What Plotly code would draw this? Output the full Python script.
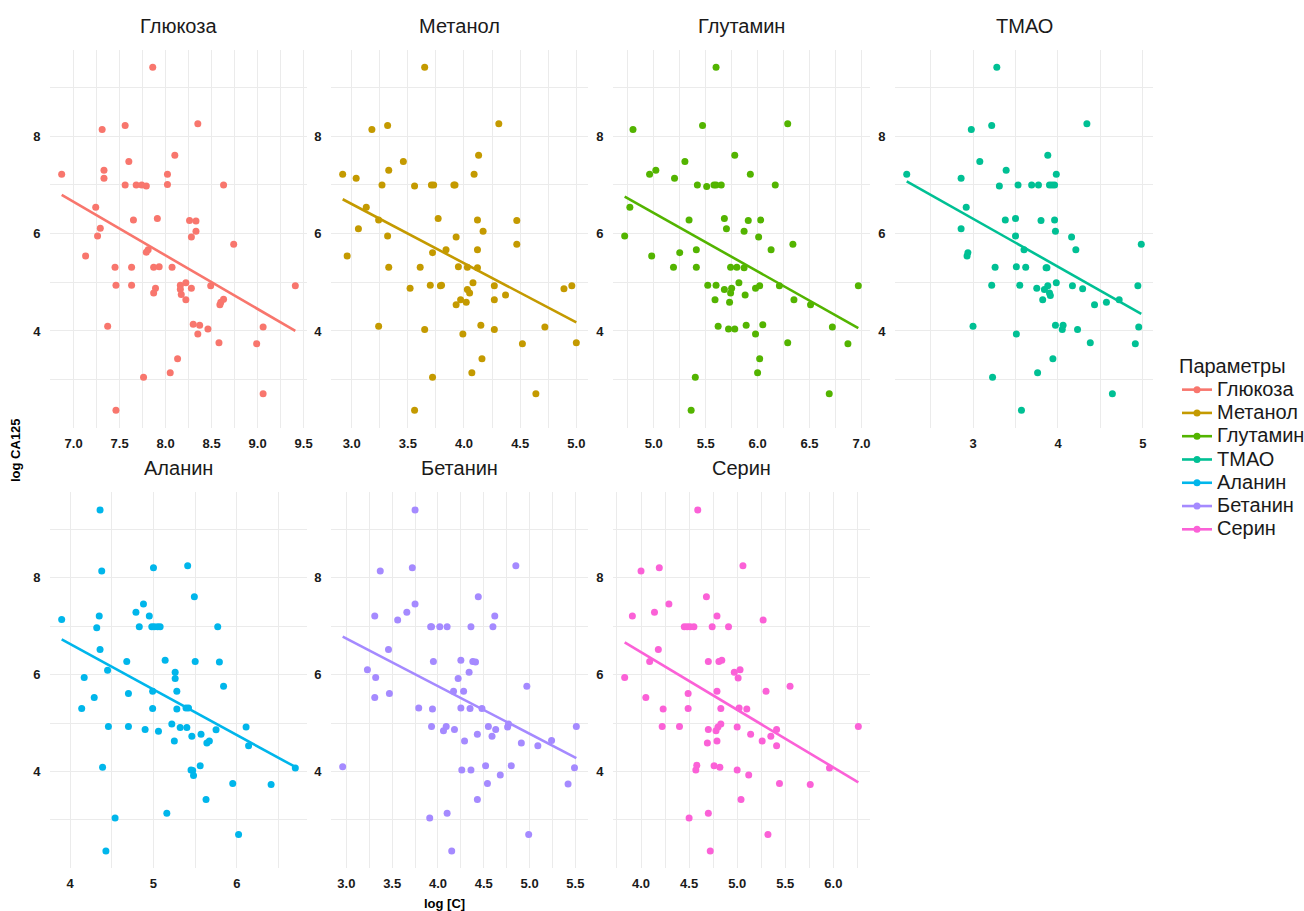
import numpy as np
import plotly.graph_objects as go

names = ["Глюкоза", "Метанол", "Глутамин", "ТМАО", "Аланин", "Бетанин", "Серин"]
colors = ["#F8766D", "#C49A00", "#53B400", "#00C094", "#00B6EB", "#A58AFF", "#FB61D7"]

x_glucose = [7.86, 7.31, 7.56, 8.35, 8.10, 7.60, 7.33, 7.33, 6.87, 8.02, 7.56, 7.68, 7.74, 7.79, 8.02, 8.63,
             7.24, 7.65, 7.91, 8.26, 8.33, 8.33, 7.29, 7.26, 8.28, 8.74, 7.13, 7.79, 7.81, 7.45, 7.63, 7.87,
             7.93, 8.07, 7.46, 7.63, 7.89, 7.87, 8.22, 8.16, 8.16, 8.17, 8.22, 8.28, 8.49, 8.59, 8.60, 8.63,
             8.30, 8.37, 8.35, 8.46, 7.37, 9.06, 8.58, 8.99, 8.13, 8.05, 7.76, 9.06, 7.46, 9.41]
y_glucose = [9.42, 8.14, 8.22, 8.26, 7.61, 7.48, 7.30, 7.14, 7.22, 7.22, 7.00, 7.00, 7.00, 6.98, 7.01, 7.00,
             6.54, 6.28, 6.31, 6.27, 6.26, 6.05, 6.11, 5.95, 5.93, 5.78, 5.54, 5.62, 5.67, 5.31, 5.31, 5.31,
             5.32, 5.31, 4.94, 4.94, 4.88, 4.78, 4.99, 4.94, 4.86, 4.75, 4.64, 4.88, 4.93, 4.54, 4.59, 4.65,
             4.14, 4.12, 3.94, 4.04, 4.10, 4.08, 3.76, 3.74, 3.43, 3.14, 3.05, 2.71, 2.37, 4.93]

x_methanol = [3.65, 3.18, 3.32, 4.31, 4.13, 3.46, 3.33, 3.04, 2.92, 4.09, 3.27, 3.56, 3.71, 3.73, 3.91, 3.92,
              3.13, 3.24, 3.77, 4.12, 4.47, 4.17, 3.06, 3.32, 3.93, 4.47, 2.96, 3.72, 3.84, 4.12, 3.33, 3.61,
              3.95, 4.03, 4.12, 3.52, 3.70, 3.79, 3.80, 4.08, 4.27, 4.03, 4.05, 3.97, 4.02, 3.93, 4.27, 4.37,
              4.89, 4.96, 3.24, 3.65, 4.15, 3.99, 4.27, 4.72, 4.52, 5.00, 4.16, 4.07, 3.72, 4.64, 3.56]
y_methanol = [9.42, 8.14, 8.22, 8.26, 7.61, 7.48, 7.30, 7.14, 7.22, 7.22, 7.00, 6.98, 7.00, 7.00, 7.00, 7.00,
              6.54, 6.28, 6.31, 6.28, 6.27, 6.05, 6.10, 5.95, 5.93, 5.78, 5.54, 5.61, 5.67, 5.67, 5.31, 5.31,
              5.32, 5.31, 5.30, 4.88, 4.94, 4.93, 4.94, 4.99, 4.93, 4.85, 4.78, 4.64, 4.59, 4.54, 4.64, 4.74,
              4.87, 4.93, 4.10, 4.03, 4.12, 3.94, 4.03, 4.08, 3.74, 3.76, 3.43, 3.14, 3.05, 2.71, 2.37]

x_glutamine = [5.60, 4.80, 5.47, 6.29, 5.78, 5.30, 5.02, 5.20, 4.96, 5.93, 5.42, 5.51, 5.58, 5.60, 5.65, 6.17,
               4.77, 5.34, 5.68, 5.91, 6.03, 5.70, 5.87, 4.72, 6.01, 6.34, 4.98, 5.25, 5.41, 6.13, 5.19, 5.41,
               5.74, 5.80, 5.87, 5.52, 5.60, 5.68, 5.75, 5.74, 5.82, 5.98, 6.02, 6.21, 5.88, 5.59, 5.73, 6.35,
               6.51, 6.97, 5.62, 5.72, 5.78, 5.89, 6.05, 5.98, 6.72, 6.29, 6.87, 6.02, 6.00, 5.40, 6.69, 5.36]
y_glutamine = [9.42, 8.14, 8.22, 8.26, 7.61, 7.48, 7.30, 7.14, 7.22, 7.22, 7.00, 6.97, 7.00, 7.00, 7.00, 7.00,
               6.54, 6.28, 6.31, 6.27, 6.28, 6.10, 6.05, 5.95, 5.93, 5.78, 5.54, 5.61, 5.67, 5.67, 5.31, 5.31,
               5.31, 5.31, 5.30, 4.94, 4.94, 4.85, 4.88, 4.78, 4.99, 4.88, 4.93, 4.93, 4.74, 4.64, 4.59, 4.64,
               4.54, 4.93, 4.10, 4.04, 4.04, 4.12, 4.13, 3.94, 4.08, 3.76, 3.74, 3.43, 3.14, 3.05, 2.71, 2.37]

x_tmao = [3.28, 2.98, 3.22, 4.34, 3.88, 3.08, 3.39, 2.86, 2.22, 3.98, 3.31, 3.53, 3.69, 3.77, 3.90, 3.93,
          3.96, 2.92, 3.38, 3.50, 3.80, 3.96, 2.86, 3.97, 3.50, 4.16, 4.98, 2.93, 2.94, 3.60, 4.21, 3.26,
          3.51, 3.62, 3.86, 3.87, 3.22, 3.55, 3.75, 3.84, 3.88, 3.90, 3.91, 3.98, 4.17, 4.29, 3.82, 4.43,
          4.57, 4.72, 4.94, 3.00, 3.97, 4.06, 4.05, 4.23, 3.51, 4.95, 4.38, 4.91, 3.94, 3.76, 3.23, 4.64, 3.57]
y_tmao = [9.42, 8.14, 8.22, 8.26, 7.61, 7.48, 7.30, 7.14, 7.22, 7.22, 6.98, 7.00, 7.00, 7.00, 7.00, 7.00,
          7.00, 6.54, 6.28, 6.31, 6.27, 6.28, 6.10, 6.05, 5.95, 5.93, 5.78, 5.54, 5.61, 5.67, 5.67, 5.31,
          5.32, 5.31, 5.30, 5.30, 4.94, 4.94, 4.88, 4.85, 4.93, 4.78, 4.73, 4.99, 4.93, 4.87, 4.64, 4.54,
          4.59, 4.64, 4.93, 4.10, 4.12, 4.12, 4.03, 4.03, 3.94, 4.08, 3.76, 3.74, 3.43, 3.14, 3.05, 2.71, 2.37]

x_alanine = [4.36, 4.38, 5.00, 5.41, 5.49, 4.88, 4.79, 4.35, 3.90, 4.95, 4.32, 4.83, 4.98, 5.01, 5.05, 5.08,
             5.77, 4.36, 4.68, 5.14, 5.50, 5.79, 5.26, 5.26, 4.45, 4.17, 5.84, 4.29, 4.70, 4.99, 5.28, 4.14,
             4.99, 5.28, 5.39, 5.42, 4.46, 4.70, 4.90, 5.06, 5.22, 5.25, 5.32, 5.40, 5.46, 5.57, 5.64, 5.67,
             5.75, 6.11, 6.14, 6.70, 4.39, 5.45, 5.47, 5.48, 5.56, 5.95, 6.41, 5.63, 5.16, 4.54, 6.02, 4.43]
y_alanine = [9.40, 8.14, 8.21, 8.25, 7.61, 7.46, 7.29, 7.21, 7.14, 7.21, 6.97, 6.99, 6.99, 6.99, 6.99, 6.99,
             6.99, 6.52, 6.27, 6.30, 6.27, 6.26, 6.05, 5.92, 6.09, 5.94, 5.76, 5.53, 5.61, 5.66, 5.66, 5.30,
             5.30, 5.29, 5.31, 5.31, 4.93, 4.93, 4.87, 4.83, 4.98, 4.63, 4.91, 4.91, 4.73, 4.77, 4.59, 4.63,
             4.86, 4.92, 4.53, 4.07, 4.09, 4.03, 4.02, 3.92, 4.12, 3.75, 3.73, 3.42, 3.14, 3.04, 2.70, 2.36]

x_betanin = [3.75, 3.37, 3.72, 4.85, 4.44, 3.75, 3.66, 3.31, 3.56, 4.62, 3.92, 3.93, 4.02, 4.10, 4.36, 4.60,
             3.46, 3.95, 4.25, 4.38, 4.41, 4.34, 3.23, 3.32, 4.22, 4.97, 3.31, 3.47, 4.17, 4.28, 3.79, 3.94,
             4.25, 4.35, 4.48, 3.93, 4.06, 4.09, 4.18, 4.29, 4.43, 4.55, 4.59, 4.63, 4.76, 4.77, 4.91, 5.09,
             5.24, 5.51, 2.96, 4.26, 4.36, 4.52, 4.80, 5.49, 4.54, 4.68, 5.42, 4.43, 4.10, 3.91, 4.99, 4.15]
y_betanin = [9.40, 8.14, 8.21, 8.25, 7.61, 7.46, 7.29, 7.21, 7.13, 7.21, 6.99, 6.99, 6.99, 6.99, 6.99, 6.99,
             6.52, 6.27, 6.30, 6.27, 6.26, 6.05, 6.10, 5.94, 5.92, 5.76, 5.53, 5.61, 5.66, 5.66, 5.31, 5.29,
             5.31, 5.30, 5.30, 4.93, 4.84, 4.93, 4.87, 4.63, 4.77, 4.93, 4.73, 4.87, 4.92, 4.98, 4.59, 4.53,
             4.64, 4.93, 4.10, 4.03, 4.03, 4.12, 4.12, 4.08, 3.75, 3.93, 3.74, 3.42, 3.14, 3.04, 2.70, 2.36]

x_serine = [4.59, 4.00, 4.19, 5.06, 4.68, 4.29, 4.14, 3.91, 5.27, 4.79, 4.45, 4.48, 4.51, 4.55, 4.74, 4.91,
            4.18, 4.09, 4.70, 4.81, 4.84, 4.97, 5.03, 3.83, 5.01, 5.55, 4.05, 4.49, 4.79, 5.30, 4.23, 4.49,
            4.83, 5.02, 5.10, 4.22, 4.40, 4.70, 4.78, 4.80, 4.83, 4.69, 4.79, 5.00, 5.14, 5.26, 5.35, 5.41,
            5.41, 6.26, 4.57, 4.58, 4.76, 4.82, 5.00, 5.12, 5.96, 5.44, 5.76, 5.04, 4.70, 4.50, 5.32, 4.72]
y_serine = [9.40, 8.14, 8.21, 8.25, 7.61, 7.46, 7.29, 7.21, 7.13, 7.21, 6.99, 6.99, 6.99, 6.99, 6.99, 6.99,
            6.52, 6.27, 6.27, 6.27, 6.30, 6.05, 6.10, 5.94, 5.93, 5.76, 5.53, 5.61, 5.66, 5.66, 5.29, 5.30,
            5.30, 5.31, 5.29, 4.93, 4.93, 4.87, 4.84, 4.92, 4.98, 4.59, 4.63, 4.92, 4.77, 4.63, 4.73, 4.87,
            4.53, 4.93, 4.03, 4.13, 4.12, 4.09, 4.03, 3.93, 4.07, 3.75, 3.73, 3.42, 3.14, 3.04, 2.70, 2.36]

xs = [x_glucose, x_methanol, x_glutamine, x_tmao, x_alanine, x_betanin, x_serine]
ys = [y_glucose, y_methanol, y_glutamine, y_tmao, y_alanine, y_betanin, y_serine]

# tick settings per panel (major step, format)
x_major = [0.5, 0.5, 0.5, 1, 1, 0.5, 0.5]
x_fmt = [".1f", ".1f", ".1f", "d", "d", ".1f", ".1f"]
y_major = [4, 6, 8]
y_minor = [3, 5, 7, 9]

W, H = 1304, 911
col_px = [(50, 307), (331, 588), (613, 870), (895, 1153)]
row_px = [(50, 428), (492, 868)]

FONT = "Liberation Sans, Arial, sans-serif"
fig = go.Figure()
grid = "#EBEBEB"
tickfont = dict(family=FONT, size=13, color="#1a1a1a", weight="bold")

allys = [v for y in ys for v in y]
ymin, ymax = min(allys), max(allys)
ypad = (ymax - ymin) * 0.05

for i, (name, col) in enumerate(zip(names, colors)):
    r, c = divmod(i, 4)
    ax = "" if i == 0 else str(i + 1)
    x = np.array(xs[i]); y = np.array(ys[i])
    fig.add_trace(go.Scatter(x=x, y=y, mode="markers", marker=dict(color=col, size=7),
                             xaxis="x" + ax, yaxis="y" + ax, showlegend=False, hoverinfo="x+y"))
    k, b = np.polyfit(x, y, 1)
    xl = np.array([x.min(), x.max()])
    fig.add_trace(go.Scatter(x=xl, y=k * xl + b, mode="lines", line=dict(color=col, width=2.6),
                             xaxis="x" + ax, yaxis="y" + ax, showlegend=False, hoverinfo="skip"))
    fig.add_trace(go.Scatter(x=[None], y=[None], mode="lines+markers",
                             name='<span style="font-size:20px">' + name + '</span>',
                             line=dict(color=col, width=2.6), marker=dict(color=col, size=7),
                             xaxis="x" + ax, yaxis="y" + ax))
    xpad = (x.max() - x.min()) * 0.05
    x0, x1 = col_px[c]
    y0, y1 = row_px[r]
    fig.layout["xaxis" + ax] = dict(
        domain=[x0 / W, x1 / W], range=[x.min() - xpad, x.max() + xpad], anchor="y" + ax,
        tickmode="linear", tick0=0, dtick=x_major[i], tickformat=x_fmt[i],
        showgrid=True, gridcolor=grid, gridwidth=1.3, zeroline=False, showline=False,
        ticks="outside", ticklen=3, tickcolor="rgba(0,0,0,0)", tickfont=tickfont,
        minor=dict(tick0=0, dtick=x_major[i] / 2, showgrid=True, gridcolor=grid, gridwidth=0.7),
    )
    fig.layout["yaxis" + ax] = dict(
        domain=[1 - y1 / H, 1 - y0 / H], range=[ymin - ypad, ymax + ypad], anchor="x" + ax,
        tickmode="array", tickvals=y_major, ticktext=[str(v) for v in y_major],
        showgrid=True, gridcolor=grid, gridwidth=1.3, zeroline=False, showline=False,
        ticks="outside", ticklen=6, tickcolor="rgba(0,0,0,0)", tickfont=tickfont,
        minor=dict(tickvals=y_minor, showgrid=True, gridcolor=grid, gridwidth=0.7),
    )
    fig.add_annotation(text=name, x=(x0 + x1) / 2 / W, y=1 - (y0 - 24) / H, xref="paper", yref="paper",
                       showarrow=False, xanchor="center", yanchor="middle",
                       font=dict(family=FONT, size=20, color="#1a1a1a"))

fig.add_annotation(text="log CA125", x=15 / W, y=1 - 450 / H, xref="paper", yref="paper", showarrow=False,
                   textangle=-90, xanchor="center", yanchor="middle",
                   font=dict(family=FONT, size=13, color="#000", weight="bold"))
fig.add_annotation(text="log [C]", x=445 / W, y=1 - 903 / H, xref="paper", yref="paper", showarrow=False,
                   xanchor="center", yanchor="middle",
                   font=dict(family=FONT, size=13, color="#000", weight="bold"))

fig.update_layout(
    width=W, height=H, margin=dict(l=0, r=0, t=0, b=0, autoexpand=False),
    paper_bgcolor="white", plot_bgcolor="white",
    legend=dict(title=dict(text="Параметры", font=dict(size=20)), x=1177 / W, y=1 - 347 / H,
                xanchor="left", yanchor="top", font=dict(family=FONT, size=15.6, color="#1a1a1a"),
                tracegroupgap=0, itemwidth=30, bgcolor="rgba(0,0,0,0)"),
    font=dict(family=FONT),
)

fig.write_html("out.html", config={"displayModeBar": False},
               post_script="document.body.style.margin='0px';")
